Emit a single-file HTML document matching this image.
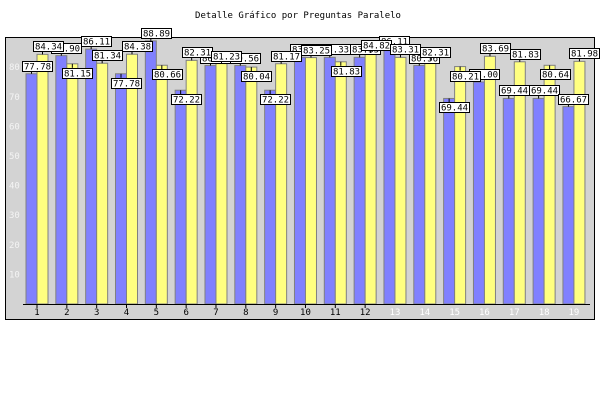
<!DOCTYPE html>
<html><head><meta charset="utf-8"><style>
body{margin:0;background:#fff}
svg text{font-family:"DejaVu Sans Mono","Liberation Mono",monospace}
</style></head><body>
<svg id="chart" width="600" height="400" xmlns="http://www.w3.org/2000/svg">
<rect x="0" y="0" width="600" height="400" fill="#fff"/>
<text x="298" y="18" font-size="9" text-anchor="middle" fill="#000">Detalle Gráfico por Preguntas Paralelo</text>
<rect x="5.5" y="37.5" width="589" height="282" fill="#d3d3d3" stroke="#000" stroke-width="1"/>
<g id="bars"></g><g id="labels"></g><g id="axes"></g>
</svg>
<script>
const categories=["1","2","3","4","5","6","7","8","9","10","11","12","13","14","15","16","17","18","19"];
const seriesBlue=[77.78,83.9,86.11,77.78,88.89,72.22,80.56,80.56,72.22,83.33,83.33,83.33,86.11,80.56,69.44,75.00,69.44,69.44,66.67];
const seriesYellow=[84.34,81.15,81.34,84.38,80.66,82.31,81.23,80.04,81.17,83.25,81.83,84.82,83.31,82.31,80.21,83.69,81.83,80.64,81.98];
const blueLabelUp=[1,1,1,0,1,0,1,1,0,1,1,1,1,1,0,1,1,1,1];
const yellowLabelUp=[1,0,1,1,0,1,1,0,1,1,0,1,1,1,0,1,1,0,1];
const yTicks=[10,20,30,40,50,60,70,80];
const NS="http://www.w3.org/2000/svg";
const y0=304,k=2.96;
function yPos(v){return y0-v*k;}
function xPos(i){return 37+i*29.83;}
function mk(tag,attrs,parent){const e=document.createElementNS(NS,tag);for(const a in attrs)e.setAttribute(a,attrs[a]);parent.appendChild(e);return e;}
const gb=document.getElementById('bars'),gl=document.getElementById('labels'),ga=document.getElementById('axes');
function label(cx,v,up,name){
  const top=yPos(v);const w=30,h=10;
  const by=up?top-h-3:top+4;
  const bx=cx+5-w/2;
  const g=mk('g',{},gl);
  
  
  mk('line',{x1:cx,y1:top,x2:cx,y2:up?top-3:top+4,stroke:'#000'},g);
  mk('rect',{x:Math.round(bx)+0.5,y:Math.round(by)+0.5,width:w,height:h,fill:'#fff',stroke:'#000'},g);
  const t=mk('text',{x:Math.round(bx)+w/2+0.5,y:Math.round(by)+8.5,'font-size':'9','text-anchor':'middle',fill:'#000'},g);
  t.textContent=v.toFixed(2);
}
categories.forEach((c,i)=>{
  const x=xPos(i);
  const b=mk('rect',{x:x-11,y:yPos(seriesBlue[i]),width:11,height:seriesBlue[i]*k,fill:'#8080ff',stroke:'#808080'},gb);
  
  
  const yb=mk('rect',{x:x,y:yPos(seriesYellow[i]),width:11,height:seriesYellow[i]*k,fill:'#ffff80',stroke:'#808080'},gb);
  
  
});
categories.forEach((c,i)=>{
  label(xPos(i)-5.5,seriesBlue[i],blueLabelUp[i],'value-label-blue-'+c);
});
categories.forEach((c,i)=>{
  label(xPos(i)+5.5,seriesYellow[i],yellowLabelUp[i],'value-label-yellow-'+c);
});
const ax=mk('line',{x1:23,y1:y0+0.5,x2:590,y2:y0+0.5,stroke:'#000'},ga);


categories.forEach((c,i)=>{
  const x=xPos(i);const white=i>=12;
  if(!white)mk('line',{x1:x,y1:y0,x2:x,y2:y0+4,stroke:'#000'},ga);
  const t=mk('text',{x:x,y:y0+11,'font-size':'9','text-anchor':'middle',fill:white?'#fff':'#000'},ga);
  
  
  t.textContent=c;
});
yTicks.forEach(v=>{
  const t=mk('text',{x:9,y:yPos(v)+3,'font-size':'9',fill:'#f4f4f4'},ga);
  
  
  t.textContent=v;
});
</script>
</body></html>
